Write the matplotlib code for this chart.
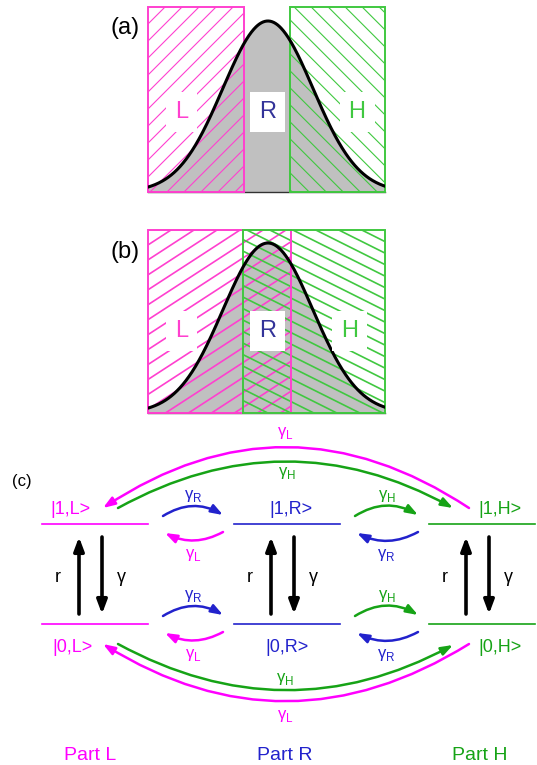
import numpy as np
import matplotlib
matplotlib.use("Agg")
import matplotlib.pyplot as plt
from matplotlib.patches import Rectangle, FancyArrowPatch
from matplotlib.collections import LineCollection

plt.rcParams['font.family'] = ['Liberation Sans', 'DejaVu Sans']
plt.rcParams['mathtext.fontset'] = 'custom'
plt.rcParams['mathtext.rm'] = 'Liberation Sans'

# colours
PINK = '#ff40cf'
GREEN = '#40c840'
NAVY = '#333399'
MAG = '#ff00ff'
BLUE = '#2222cc'
DGREEN = '#16a316'

# distribution drawn in (a) and (b), x in fraction of axis
mu = 0.506
sigma = 0.19

# region limits (fraction of x axis)
a_L = (0.0, 0.405)
a_H = (0.60, 1.0)
b_L = (0.0, 0.603)
b_H = (0.40, 1.0)

# panel (c) layout, in pixels
names = ['L', 'R', 'H']
col_x = [95, 287, 482]
col_colors = [MAG, BLUE, DGREEN]
y_up, y_lo = 524, 624
ket_up_x = [70, 291, 500]
ket_lo_x = [72, 287, 500]
part_x = [90, 285, 480]


def glab(s):
    return r'$\mathregular{γ}_\mathregular{%s}$' % s


def hatch(ax, x0, x1, slope_px, step_px, color, lw):
    # hatch lines with given on-screen slope and horizontal spacing
    bb = ax.get_window_extent()
    xl, yl = ax.get_xlim(), ax.get_ylim()
    ppx = bb.width / (xl[1] - xl[0])
    ppy = bb.height / (yl[1] - yl[0])
    md = slope_px * ppx / ppy
    step = step_px / ppx
    top = yl[1]
    span = top / abs(md)
    xks = np.arange(x0 - span - step, x1 + span + step, step)
    segs = [[(x0, md * (x0 - k)), (x1, md * (x1 - k))] for k in xks]
    lc = LineCollection(segs, colors=color, linewidths=lw, zorder=2)
    clip = Rectangle((x0, 0), x1 - x0, top, transform=ax.transData)
    lc.set_clip_path(clip)
    ax.add_collection(lc, autolim=False)
    ax.add_patch(Rectangle((x0, 0), x1 - x0, top, fill=False, edgecolor=color,
                           lw=1.4, zorder=3, clip_on=False))


def dist_panel(rect, ytop, L, H, slopes, steps, hlw, lab_y, lab_x, tag, tag_y):
    ax = fig.add_axes(rect)
    ax.set_xlim(0, 1)
    ax.set_ylim(0, ytop)
    x = np.linspace(0, 1, 400)
    y = np.exp(-0.5 * ((x - mu) / sigma) ** 2)
    ax.fill_between(x, 0, y, color='#c0c0c0', lw=0, zorder=1)
    hatch(ax, L[0], L[1], slopes[0], steps[0], PINK, hlw)
    hatch(ax, H[0], H[1], slopes[1], steps[1], GREEN, hlw)
    ax.plot(x, y, color='black', lw=2.2, zorder=4)
    for sp in ['top', 'left', 'right']:
        ax.spines[sp].set_visible(False)
    ax.spines['bottom'].set_color('#333333')
    ax.spines['bottom'].set_linewidth(1.0)
    ax.set_xticks([])
    ax.set_yticks([])
    box = dict(boxstyle='square,pad=0.38', fc='white', ec='none')
    for s, xx, c in zip(['L', 'R', 'H'], lab_x, [PINK, NAVY, GREEN]):
        ax.text(xx, lab_y, s, color=c, fontsize=17, ha='center', va='center',
                bbox=box, zorder=5)
    fig.text(125 / 537, 1 - tag_y / 765, tag, fontsize=17, ha='center', va='center')
    return ax


fig = plt.figure(figsize=(5.37, 7.65), dpi=100)

# panel (c) drawn in a full-figure axes with pixel coordinates
axc = fig.add_axes([0, 0, 1, 1])
axc.set_xlim(0, 537)
axc.set_ylim(765, 0)
axc.axis('off')

dist_panel([148 / 537, 1 - 192 / 765, 237 / 537, 185 / 765], 185 / 171,
           a_L, a_H, (1.0, -1.0), (17, 17), 0.8, 0.468,
           [0.143, 0.506, 0.882], '(a)', 28)
dist_panel([148 / 537, 1 - 413 / 765, 237 / 537, 183 / 765], 183 / 170,
           b_L, b_H, (0.65, -0.5), (23, 23), 1.2, 0.482,
           [0.143, 0.506, 0.852], '(b)', 252)

axc.text(22, 481, '(c)', fontsize=12, ha='center', va='center')

half = 53
for i, c in enumerate(col_x):
    col = col_colors[i]
    for yy in (y_up, y_lo):
        axc.plot([c - half, c + half], [yy, yy], color=col, lw=1.2)
    axc.text(ket_up_x[i], 510, '|1,%s>' % names[i], color=col, fontsize=13,
             ha='center', va='center')
    axc.text(ket_lo_x[i], 647, '|0,%s>' % names[i], color=col, fontsize=13,
             ha='center', va='center')
    axc.text(part_x[i], 755, 'Part %s' % names[i], color=col, fontsize=14,
             ha='center', va='center')
    # pumping and decay
    vs = 'simple,head_length=0.9,head_width=0.8,tail_width=0.3'
    axc.add_patch(FancyArrowPatch((c - 16, y_lo - 10), (c - 16, y_up + 13),
                                  arrowstyle='-|>,head_length=0.8,head_width=0.3',
                                  mutation_scale=10, lw=2.6, color='black',
                                  shrinkA=0, shrinkB=0))
    axc.add_patch(FancyArrowPatch((c + 7, y_up + 13), (c + 7, y_lo - 10),
                                  arrowstyle='-|>,head_length=0.8,head_width=0.3',
                                  mutation_scale=10, lw=2.6, color='black',
                                  shrinkA=0, shrinkB=0))
    axc.text(c - 37, 577, 'r', fontsize=13, ha='center', va='center')
    axc.text(c + 26, 577, 'γ', fontsize=13, ha='center', va='center')

short = '-|>,head_length=0.7,head_width=0.25'
for i in range(2):
    xa = col_x[i] + half + 15
    xb = col_x[i + 1] - half - 11
    xm = (xa + xb) / 2
    for yy in (y_up, y_lo):
        axc.add_patch(FancyArrowPatch((xa, yy - 8), (xb, yy - 9),
                                      connectionstyle='arc3,rad=-0.3',
                                      arrowstyle=short, mutation_scale=10, lw=1.8,
                                      color=col_colors[i + 1], shrinkA=0, shrinkB=0))
        axc.add_patch(FancyArrowPatch((xb, yy + 8), (xa + 2, yy + 9),
                                      connectionstyle='arc3,rad=-0.26',
                                      arrowstyle=short, mutation_scale=10, lw=1.8,
                                      color=col_colors[i], shrinkA=0, shrinkB=0))
        axc.text(xm, yy - 28, glab(names[i + 1]), color=col_colors[i + 1],
                 fontsize=12, ha='center', va='center')
        axc.text(xm, yy + 31, glab(names[i]), color=col_colors[i],
                 fontsize=12, ha='center', va='center')

# long transitions between L and H
long_arcs = [
    ((469, y_up - 16), (103, y_up - 16), 0.33, MAG),
    ((118, y_up - 16), (453, y_up - 16), -0.275, DGREEN),
    ((118, y_lo + 20), (453, y_lo + 21), 0.27, DGREEN),
    ((469, y_lo + 20), (103, y_lo + 20), -0.31, MAG),
]
for pa, pb, rad, col in long_arcs:
    axc.add_patch(FancyArrowPatch(pa, pb, connectionstyle='arc3,rad=%g' % rad,
                                  arrowstyle=short, mutation_scale=10, lw=1.8,
                                  color=col, shrinkA=0, shrinkB=0))
axc.text(285, 433, glab('L'), color=MAG, fontsize=12, ha='center', va='center')
axc.text(287, 473, glab('H'), color=DGREEN, fontsize=12, ha='center', va='center')
axc.text(285, 679, glab('H'), color=DGREEN, fontsize=12, ha='center', va='center')
axc.text(285, 716, glab('L'), color=MAG, fontsize=12, ha='center', va='center')

fig.savefig('out.png', dpi=100)
